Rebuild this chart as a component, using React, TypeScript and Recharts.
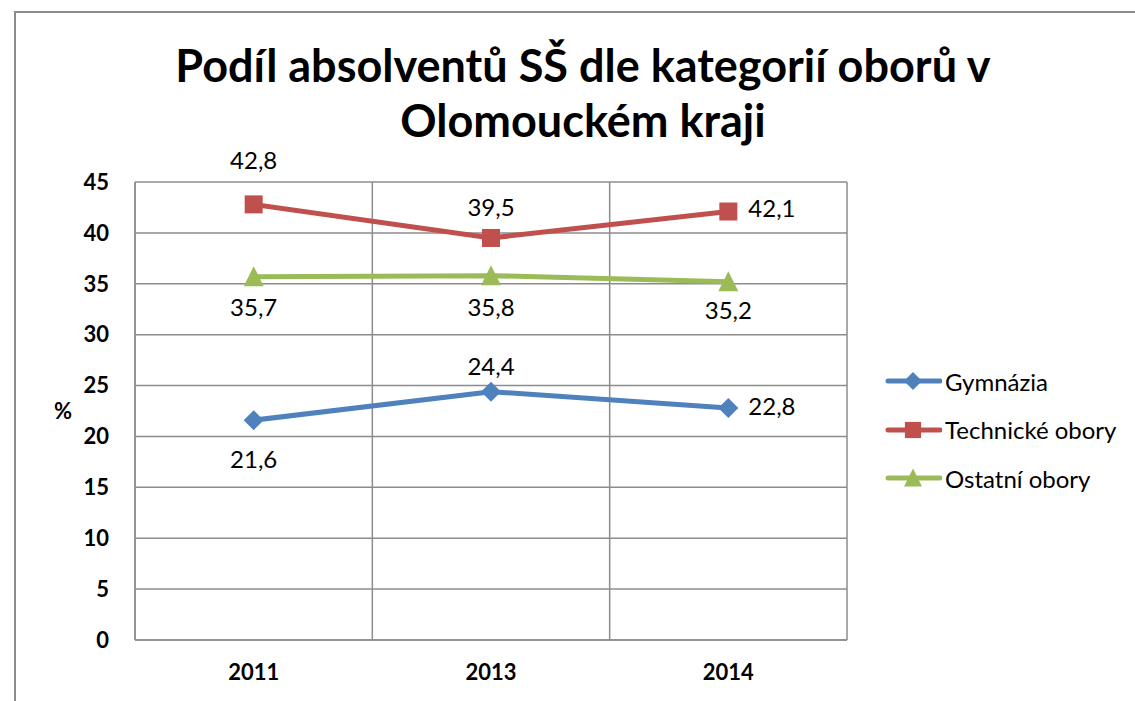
import React from "react";
import {
  CartesianGrid,
  Label,
  LabelList,
  Line,
  LineChart,
  XAxis,
  YAxis,
} from "recharts";

const categories = ["2011", "2013", "2014"];
const gymnazia = [21.6, 24.4, 22.8];
const technicke = [42.8, 39.5, 42.1];
const ostatni = [35.7, 35.8, 35.2];
const yTicks = [0, 5, 10, 15, 20, 25, 30, 35, 40, 45];

const data = categories.map((year, i) => ({
  x: i + 0.5,
  year,
  gymnazia: gymnazia[i],
  technicke: technicke[i],
  ostatni: ostatni[i],
}));

const FONT = "Lato, 'Open Sans', sans-serif";
const BLUE = "#4F81BD";
const RED = "#C0504D";
const GREEN = "#9BBB59";
const GRID = "#8c8c8c";

// label placement per point: dx, dy relative to the marker
const series = [
  { key: "gymnazia", name: "Gymnázia", color: BLUE, shape: "diamond", place: [[0, 42], [0, -23], [20, 1]] },
  { key: "technicke", name: "Technické obory", color: RED, shape: "square", place: [[0, -41], [0, -28], [20, -1]] },
  { key: "ostatni", name: "Ostatní obory", color: GREEN, shape: "triangle", place: [[0, 33], [0, 34], [0, 31]] },
];

function Marker({ cx, cy, shape, color, size = 10 }: any) {
  if (cx == null || cy == null) return null;
  const r = size;
  if (shape === "diamond") {
    return <path d={`M${cx},${cy - r}L${cx + r},${cy}L${cx},${cy + r}L${cx - r},${cy}Z`} fill={color} />;
  }
  if (shape === "square") {
    const h = r * 0.9;
    return <rect x={cx - h} y={cy - h} width={h * 2} height={h * 2} fill={color} />;
  }
  return <path d={`M${cx},${cy - r * 1.05}L${cx + r},${cy + r * 0.95}L${cx - r},${cy + r * 0.95}Z`} fill={color} />;
}

function makeLabel(place: number[][]) {
  return (props: any) => {
    const { x, y, value, index } = props;
    const [dx, dy] = place[index];
    const txt = String(value).replace(".", ",");
    return (
      <text
        x={x + dx}
        y={y + dy}
        textAnchor={dx > 0 ? "start" : "middle"}
        dominantBaseline="middle"
        fontFamily={FONT}
        fontSize={24}
        fill="#000"
      >
        {txt}
      </text>
    );
  };
}

function ChartLegend() {
  return (
    <div style={{ position: "absolute", left: 884, top: 357, fontFamily: FONT, fontSize: 24 }}>
      {series.map((s) => (
        <div key={s.key} style={{ display: "flex", alignItems: "center", height: 48.5 }}>
          <svg width={58} height={24} style={{ marginRight: 3 }}>
            <line x1={4} y1={12} x2={56} y2={12} stroke={s.color} strokeWidth={5} strokeLinecap="round" />
            <Marker cx={29} cy={12} shape={s.shape} color={s.color} size={9} />
          </svg>
          <span>{s.name}</span>
        </div>
      ))}
    </div>
  );
}

export default function App() {
  return (
    <div style={{ position: "relative", width: 1135, height: 701, overflow: "hidden", background: "#fff" }}>
      <style>{`body{margin:0}`}</style>
      <div
        style={{
          position: "absolute",
          left: 14,
          top: 11,
          width: 1140,
          height: 720,
          border: `2px solid ${GRID}`,
          boxSizing: "border-box",
        }}
      />
      <div
        style={{
          position: "absolute",
          left: 0,
          width: 1166,
          top: 38,
          textAlign: "center",
          fontFamily: FONT,
          fontWeight: 700,
          fontSize: 45,
          lineHeight: "55px",
        }}
      >
        Podíl absolventů SŠ dle kategorií oborů v<br />
        Olomouckém kraji
      </div>
      <div style={{ position: "absolute", left: 0, top: 0 }}>
        <LineChart width={1135} height={701} data={data} margin={{ top: 182, right: 288, bottom: 0, left: 0 }}>
          <CartesianGrid xAxisId="grid" stroke={GRID} strokeWidth={1.5} />
          <XAxis xAxisId="grid" type="number" dataKey="x" domain={[0, 3]} ticks={[0, 1, 2, 3]} hide />
          <XAxis
            xAxisId="cat"
            type="number"
            dataKey="x"
            domain={[0, 3]}
            ticks={data.map((d) => d.x)}
            tickFormatter={(v) => categories[Math.floor(v)]}
            height={61}
            axisLine={{ stroke: GRID, strokeWidth: 1.5 }}
            tickLine={false}
            tick={{ fontFamily: FONT, fontWeight: 700, fontSize: 22, fill: "#000" }}
            tickMargin={18}
          />
          <YAxis
            domain={[0, 45]}
            ticks={yTicks}
            width={135}
            axisLine={{ stroke: GRID, strokeWidth: 1.5 }}
            tickLine={false}
            tickMargin={20}
            tick={{ fontFamily: FONT, fontWeight: 700, fontSize: 22, fill: "#000" }}
          >
            <Label value="%" position="insideLeft" offset={54} fontFamily={FONT} fontWeight={700} fontSize={22} fill="#000" />
          </YAxis>
          {series.map((s) => (
            <Line
              key={s.key}
              xAxisId="cat"
              dataKey={s.key}
              name={s.name}
              stroke={s.color}
              strokeWidth={5}
              isAnimationActive={false}
              dot={(p: any) => <Marker key={`${s.key}-${p.index}`} cx={p.cx} cy={p.cy} shape={s.shape} color={s.color} />}
              activeDot={false}
            >
              <LabelList dataKey={s.key} content={makeLabel(s.place)} />
            </Line>
          ))}
        </LineChart>
      </div>
      <ChartLegend />
    </div>
  );
}
